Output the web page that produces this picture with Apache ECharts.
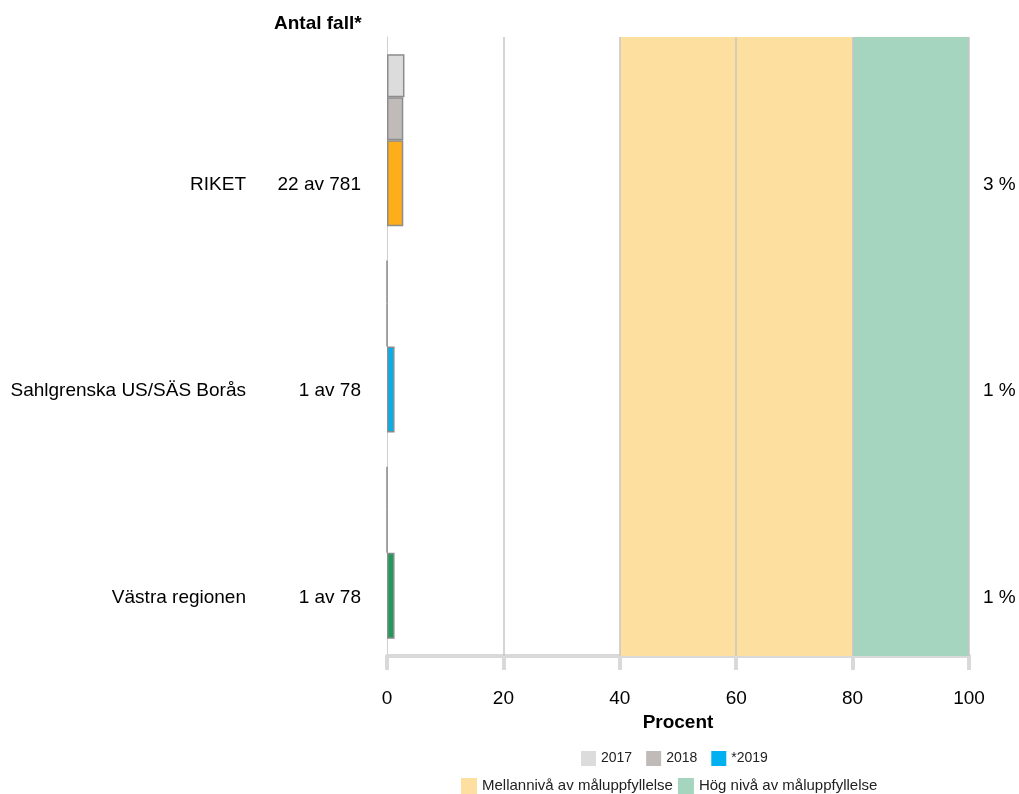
<!DOCTYPE html>
<html>
<head>
<meta charset="utf-8">
<script src="https://cdn.jsdelivr.net/npm/echarts@6/dist/echarts.min.js"></script>
<style>html,body{margin:0;padding:0;background:#fff;}#c{width:1019px;height:794px;}</style>
</head>
<body>
<div id="c"></div>
<script>
const categories = ['RIKET', 'Sahlgrenska US/SÄS Borås', 'Västra regionen'];
const counts = ['22 av 781', '1 av 78', '1 av 78'];
const values2017 = [3.0, 0, 0];
const values2018 = [2.8, 0, 0];
const values2019 = [2.8, 1.3, 1.3];
const colors2019 = ['#fdae19', '#00b0f0', '#1e9a5a'];
const xTicks = [0, 20, 40, 60, 80, 100];
const midBand = [40, 80];
const highBand = [80, 100];

const FONT = 'Liberation Sans, Arial, sans-serif';
const FS = 19;
const chart = echarts.init(document.getElementById('c'));
const border = { borderColor: '#8c8c8c', borderWidth: 1.5 };

chart.setOption({
  animation: false,
  textStyle: { fontFamily: FONT },
  title: {
    text: 'Antal fall*', left: 269, top: 9,
    textStyle: { fontFamily: FONT, fontSize: 19, fontWeight: 'bold', color: '#000' }
  },
  legend: [
    {
      data: ['2017', '2018', '*2019'], top: 746, left: 576,
      icon: 'rect', itemWidth: 15, itemHeight: 15, itemGap: 14,
      itemStyle: { borderWidth: 0 },
      textStyle: { fontFamily: FONT, fontSize: 14, color: '#222' }
    },
    {
      data: ['Mellannivå av måluppfyllelse', 'Hög nivå av måluppfyllelse'], top: 773, left: 456,
      icon: 'rect', itemWidth: 16, itemHeight: 16, itemGap: 5,
      itemStyle: { borderWidth: 0 },
      textStyle: { fontFamily: FONT, fontSize: 15, color: '#222' }
    }
  ],
  grid: { left: 387, right: 50, top: 37, bottom: 138 },
  xAxis: {
    type: 'value', min: 0, max: 100, interval: 20,
    name: 'Procent', nameLocation: 'middle', nameGap: 53,
    nameTextStyle: { fontFamily: FONT, fontSize: FS, fontWeight: 'bold', color: '#000' },
    axisLine: { show: true, lineStyle: { color: '#d9d9d9', width: 4 } },
    axisTick: { show: true, length: 14, lineStyle: { color: '#d9d9d9', width: 4 } },
    axisLabel: { margin: 33, fontSize: FS, color: '#000', fontFamily: FONT },
    splitLine: { show: false }
  },
  yAxis: [
    {
      type: 'category', inverse: true, data: categories,
      axisLine: { show: true, lineStyle: { color: '#cfcfcf', width: 1 } },
      axisTick: { show: false },
      axisLabel: {
        margin: 26, fontFamily: FONT, padding: [89, 0, 0, 0],
        formatter: function (v, i) { return '{n|' + v + '}{c|' + counts[i] + '}'; },
        rich: {
          n: { fontSize: FS, color: '#000', fontFamily: FONT, align: 'right' },
          c: { fontSize: FS, color: '#000', fontFamily: FONT, width: 115, align: 'right' }
        }
      }
    },
    {
      type: 'category', inverse: true, data: categories, position: 'right',
      axisLine: { show: false }, axisTick: { show: false },
      axisLabel: {
        margin: 14, fontFamily: FONT, padding: [89, 0, 0, 0],
        formatter: function (v, i) { return '{p|' + Math.round(values2019[i]) + ' %}'; },
        rich: { p: { fontSize: FS, color: '#000', fontFamily: FONT, align: 'left' } }
      }
    }
  ],
  series: [
    {
      name: 'Mellannivå av måluppfyllelse', type: 'bar', data: [], z: 1,
      itemStyle: { color: '#fddfa0' },
      markArea: { silent: true, itemStyle: { color: '#fddfa0' },
        data: [[{ xAxis: midBand[0] }, { xAxis: midBand[1] }]] }
    },
    {
      name: 'Hög nivå av måluppfyllelse', type: 'bar', data: [], z: 1,
      itemStyle: { color: '#a5d4bf' },
      markArea: { silent: true, itemStyle: { color: '#a5d4bf' },
        data: [[{ xAxis: highBand[0] }, { xAxis: highBand[1] }]] },
      markLine: {
        silent: true, symbol: 'none', label: { show: false },
        lineStyle: { color: '#c6c6c6', width: 1.5, type: 'solid' },
        data: xTicks.filter(t => t > 0).map(t => ({ xAxis: t }))
      }
    },
    {
      name: '2017', type: 'bar', data: values2017, barWidth: 43, barGap: '0%', barCategoryGap: 0,
      itemStyle: Object.assign({ color: '#dcdcdc' }, border)
    },
    {
      name: '2018', type: 'bar', data: values2018, barWidth: 43, barGap: '0%',
      itemStyle: Object.assign({ color: '#c0bbb8' }, border)
    },
    {
      name: '*2019', type: 'bar', barWidth: 86, barGap: '0%',
      itemStyle: Object.assign({ color: '#00b0f0' }, border),
      data: values2019.map((v, i) => ({ value: v, itemStyle: { color: colors2019[i] } }))
    }
  ]
});
</script>
</body>
</html>
